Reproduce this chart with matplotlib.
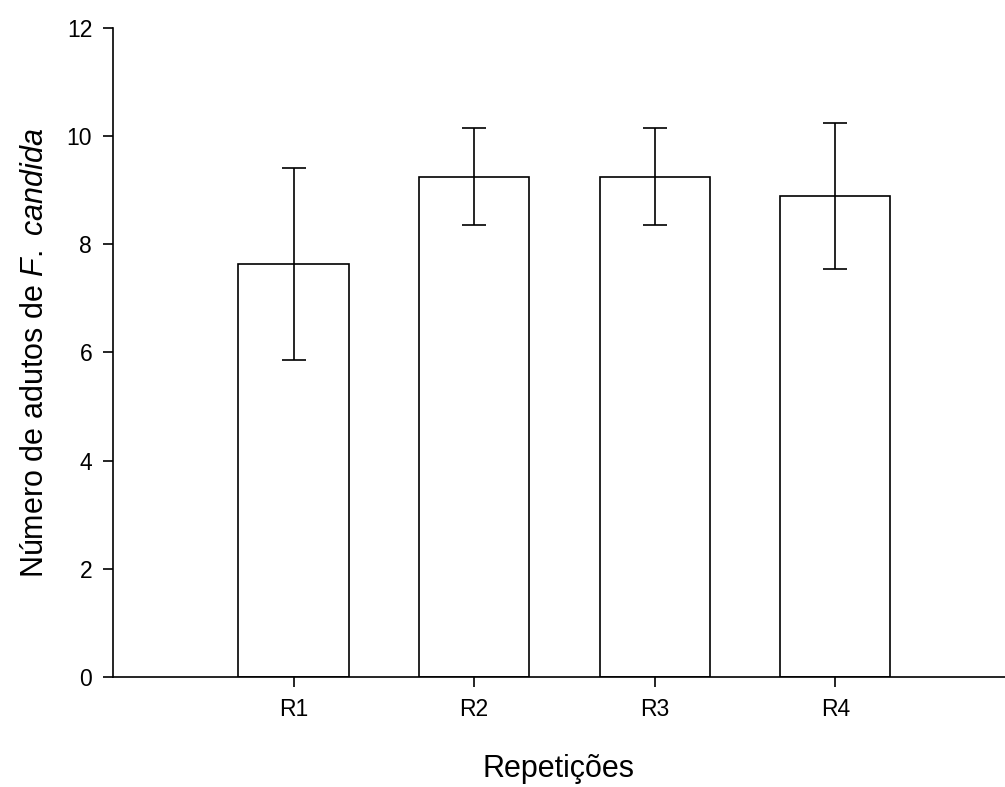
import matplotlib.pyplot as plt
import numpy as np

plt.rcParams['font.family'] = ['Liberation Sans', 'DejaVu Sans']
plt.rcParams['mathtext.fontset'] = 'custom'
plt.rcParams['mathtext.rm'] = 'Liberation Sans'
plt.rcParams['mathtext.it'] = 'Liberation Sans:italic'

# Dados
categorias = ['R1', 'R2', 'R3', 'R4']
medias = [7.64, 9.25, 9.25, 8.89]
erros = [1.77, 0.90, 0.90, 1.35]

fig = plt.figure(figsize=(10.05, 7.87), dpi=100)
ax = fig.add_axes([0.1124, 0.1398, 0.8876, 0.8246])

x = np.arange(1, len(categorias) + 1)
ax.bar(x, medias, width=0.61, color='white', edgecolor='black', linewidth=1.2, zorder=2)
ax.errorbar(x, medias, yerr=erros, fmt='none', ecolor='black', elinewidth=1.2,
            capsize=8.5, capthick=1.2, zorder=3)

ax.set_xlim(0, 4.94)
ax.set_ylim(0, 12)
ax.set_yticks(np.arange(0, 13, 2))
ax.set_xticks(x)
ax.set_xticklabels(categorias)

ax.spines['top'].set_visible(False)
ax.spines['right'].set_visible(False)
for s in ['left', 'bottom']:
    ax.spines[s].set_linewidth(1.2)

ax.tick_params(axis='both', direction='out', length=7, width=1.2, labelsize=16.5)
ax.tick_params(axis='y', pad=8)
ax.tick_params(axis='x', pad=8)

ax.set_xlabel('Repetições', fontsize=22, labelpad=24)
ax.set_ylabel('Número de adutos de $\\mathit{F.\\ candida}$', fontsize=22, labelpad=12)

fig.savefig('out.png', dpi=100)
